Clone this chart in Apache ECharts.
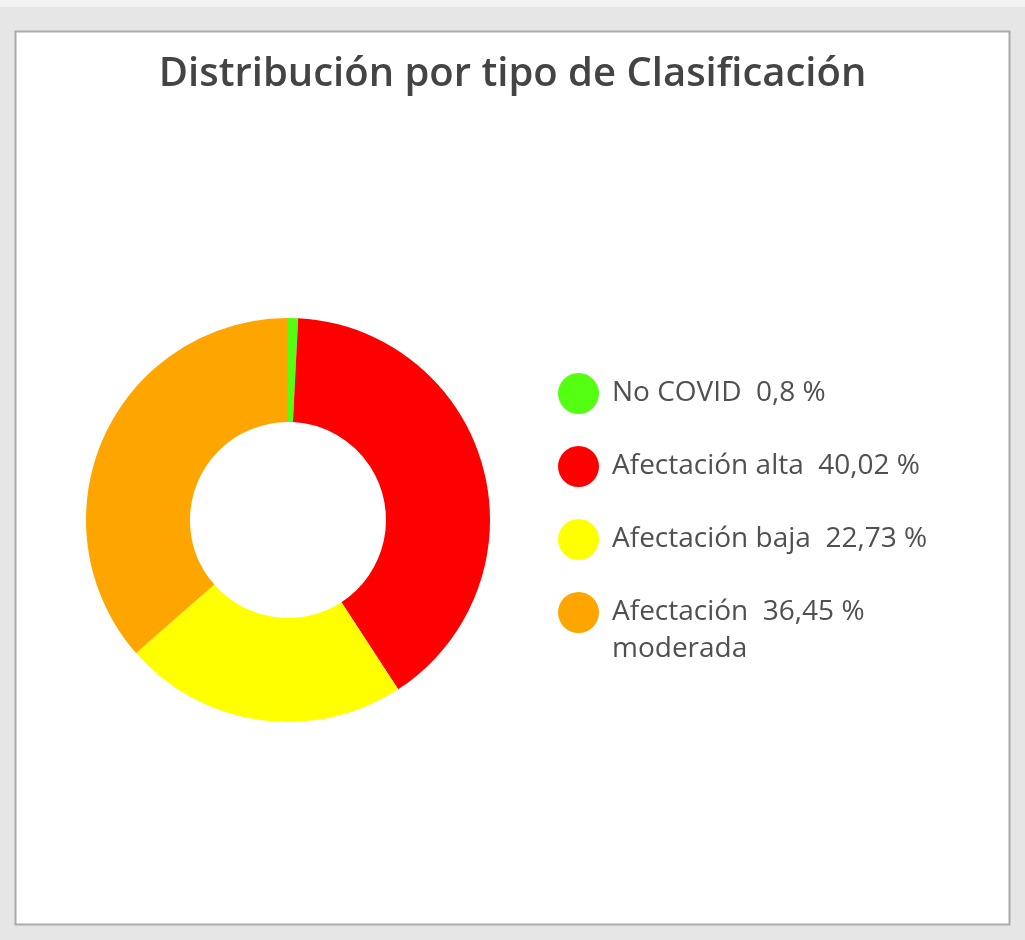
<!DOCTYPE html>
<html>
<head>
<meta charset="utf-8">
<script src="https://cdn.jsdelivr.net/npm/echarts@6/dist/echarts.min.js"></script>
<style>
    html, body { margin: 0; padding: 0; background: #e6e6e6; }
    #figure { width: 1025px; height: 940px; }
</style>
</head>
<body>
<div id="figure"></div>
<script>
    const categories = ['No COVID', 'Afectación alta', 'Afectación baja', 'Afectación moderada'];
    const percents = [0.8, 40.02, 22.73, 36.45];
    const percentLabels = ['0,8 %', '40,02 %', '22,73 %', '36,45 %'];
    const colors = ['#55ff11', '#ff0000', '#ffff00', '#ffa500'];

    const lineH = 37;

    // each legend entry is 3 lines (blank, text, wrap) so the first text line sits on the icon
    function legendText(name) {
        const i = categories.indexOf(name);
        if (name === 'Afectación moderada') {
            return ' \nAfectación  ' + percentLabels[i] + '\nmoderada';
        }
        return ' \n' + name + '  ' + percentLabels[i] + '\n ';
    }

    const figure = echarts.init(document.getElementById('figure'));
    figure.setOption({
        backgroundColor: '#e6e6e6',
        animation: false,
        graphic: [{
            type: 'rect',
            shape: { x: 0, y: 0, width: 1025, height: 7 },
            style: { fill: '#f2f2f2' },
            z: -10
        }, {
            type: 'rect',
            shape: { x: 15.5, y: 31.5, width: 994, height: 893 },
            style: { fill: '#ffffff', stroke: '#aaaaaa', lineWidth: 2 },
            z: -10
        }],
        title: {
            text: 'Distribución por tipo de Clasificación',
            left: 'center',
            top: 50,
            textStyle: {
                fontFamily: 'Open Sans',
                fontWeight: 600,
                fontSize: 40,
                color: '#444444'
            }
        },
        legend: {
            orient: 'vertical',
            left: 553,
            top: 333,
            icon: 'circle',
            itemWidth: 41,
            itemHeight: 41,
            itemGap: 73 - 3 * lineH,
            formatter: legendText,
            textStyle: {
                fontFamily: 'Open Sans',
                fontSize: 28,
                lineHeight: lineH,
                color: '#505050',
                padding: [0, 0, 0, 8]
            },
            data: categories
        },
        series: [{
            type: 'pie',
            center: [288, 520],
            radius: [98, 202],
            startAngle: 90,
            clockwise: true,
            label: { show: false },
            labelLine: { show: false },
            emphasis: { disabled: true },
            itemStyle: { borderWidth: 0 },
            data: categories.map(function (c, i) {
                return { name: c, value: percents[i], itemStyle: { color: colors[i] } };
            })
        }]
    });
</script>
</body>
</html>
